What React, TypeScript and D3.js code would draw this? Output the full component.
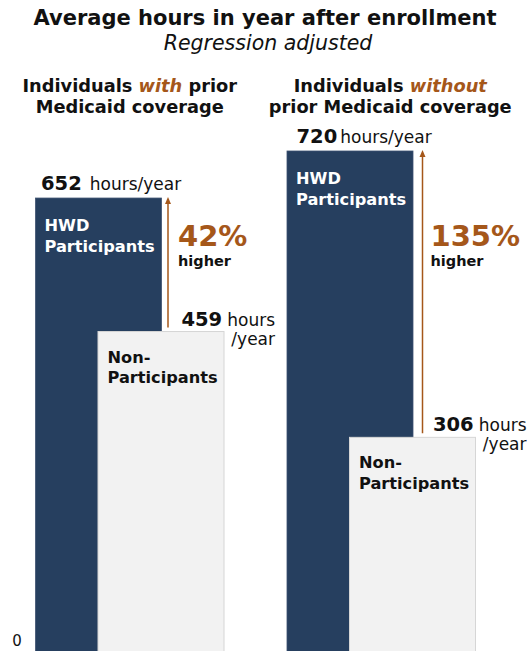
import * as React from 'react';
import * as d3 from 'd3';

// values
const groups = ['with', 'without'];
const headerPrefix = ['Individuals ', 'Individuals '];
const headerEmph = ['with', 'without'];
const participantHours = [652, 720];
const nonParticipantHours = [459, 306];
const pctHigher = ['42%', '135%'];
const zeroLabel = '0';

const W = 530;
const H = 651;
const navy = '#263f5f';
const light = '#f2f2f2';
const brown = '#a5571a';
const font = '"DejaVu Sans", Verdana, sans-serif';

const barW = 126;
const npOffset = 62.5;

export default function App() {
    const y = d3.scaleLinear().domain([0, 720]).range([649, 151]);
    const x = d3.scaleBand<string>().domain(groups).range([35.5, 538.5]).padding(0);

    return (
        <svg width={W} height={H} style={{ position: 'absolute', left: 0, top: 0, background: '#fff' }}
            fontFamily={font}>
            <text x={265} y={25} textAnchor="middle" fontSize={21} fontWeight="bold" fill="#111">
                Average hours in year after enrollment
            </text>
            <text x={268} y={50} textAnchor="middle" fontSize={20.5} fontStyle="italic" fill="#111">
                Regression adjusted
            </text>

            {groups.map((g, i) => {
                const x0 = x(g) as number;
                const hp = participantHours[i];
                const hn = nonParticipantHours[i];
                const cx = x0 + (barW + npOffset) / 2 + (i === 0 ? 0 : 9);
                const arrowX = x0 + barW + (i === 0 ? 6.5 : 9.5);
                const rightX = x0 + npOffset + barW;
                return (
                    <g key={g}>
                        {/* headers */}
                        <text x={cx} y={92} textAnchor="middle" fontSize={17.8} fontWeight="bold" fill="#111">
                            {headerPrefix[i]}
                            <tspan fill={brown} fontStyle="italic">{headerEmph[i]}</tspan>
                            {i === 0 ? ' prior' : ''}
                        </text>
                        <text x={cx} y={113} textAnchor="middle" fontSize={17.8} fontWeight="bold" fill="#111">
                            {i === 0 ? 'Medicaid coverage' : 'prior Medicaid coverage'}
                        </text>

                        {/* participants bar */}
                        <rect x={x0} y={y(hp)} width={barW} height={H - y(hp) + 2} fill={navy}
                            stroke="#3d5270" strokeWidth={0.8} />
                        <text x={x0 + 9} y={y(hp) + 32.5} fontSize={16.2} fontWeight="bold" fill="#fff">HWD</text>
                        <text x={x0 + 9} y={y(hp) + 54} fontSize={16.2} fontWeight="bold" fill="#fff">Participants</text>

                        {/* participant value */}
                        <text x={x0 + (i === 0 ? 5.5 : 9.5)} y={y(hp) - 8.5} fill="#111">
                            <tspan fontSize={19.5} fontWeight="bold">{hp}</tspan>
                            <tspan fontSize={17} dx={i === 0 ? 8 : 3}>hours/year</tspan>
                        </text>

                        {/* non-participants bar */}
                        <rect x={x0 + npOffset} y={y(hn)} width={barW} height={H - y(hn) + 2} fill={light}
                            stroke="#d6d6d6" strokeWidth={1} />
                        <text x={x0 + npOffset + 9.5} y={y(hn) + 31} fontSize={16.2} fontWeight="bold" fill="#111">Non-</text>
                        <text x={x0 + npOffset + 9.5} y={y(hn) + 51.5} fontSize={16.2} fontWeight="bold" fill="#111">Participants</text>

                        {/* non-participant value */}
                        <text x={rightX + 51} y={y(hn) - 6} textAnchor="end" fill="#111">
                            <tspan fontSize={19.5} fontWeight="bold">{hn}</tspan>
                            <tspan fontSize={17} dx={5}>hours</tspan>
                        </text>
                        <text x={rightX + 51} y={y(hn) + 13} textAnchor="end" fontSize={17} fill="#111">/year</text>

                        {/* arrow */}
                        <line x1={arrowX} x2={arrowX} y1={y(hn) - 4} y2={y(hp) + 5} stroke={brown} strokeWidth={1.5} />
                        <path d={`M${arrowX - 3},${y(hp) + 6} L${arrowX},${y(hp) - 1} L${arrowX + 3},${y(hp) + 6} Z`} fill={brown} />

                        <text x={arrowX + (i === 0 ? 10 : 8)} y={246} fontSize={29} fontWeight="bold" fill={brown}>{pctHigher[i]}</text>
                        <text x={arrowX + (i === 0 ? 10 : 8)} y={266} fontSize={14.5} fontWeight="bold" fill="#111">higher</text>
                    </g>
                );
            })}

            <text x={17} y={y(0) - 3} textAnchor="middle" fontSize={15} fill="#111">{zeroLabel}</text>
        </svg>
    );
}
